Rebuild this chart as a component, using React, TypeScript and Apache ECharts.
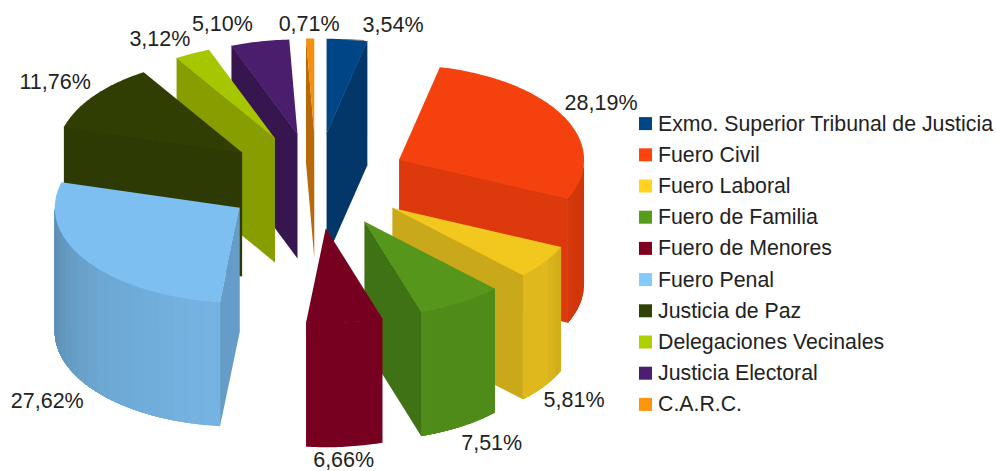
import React, { useEffect, useRef } from "react";
import * as echarts from "echarts";

const categories = [
  "Exmo. Superior Tribunal de Justicia",
  "Fuero Civil",
  "Fuero Laboral",
  "Fuero de Familia",
  "Fuero de Menores",
  "Fuero Penal",
  "Justicia de Paz",
  "Delegaciones Vecinales",
  "Justicia Electoral",
  "C.A.R.C.",
];
const shares = [3.54, 28.19, 5.81, 7.51, 6.66, 27.62, 11.76, 3.12, 5.1, 0.71];
const valueLabels = ["3,54%", "28,19%", "5,81%", "7,51%", "6,66%", "27,62%", "11,76%", "3,12%", "5,10%", "0,71%"];

const topColors = ["#004586", "#F5410D", "#F2C81F", "#55961B", "#770020", "#7DBFF1", "#303E04", "#A6C600", "#4A1E6D", "#F78F0D"];
const cutColors = ["#03376A", "#DC3A0C", "#C9A81A", "#3F7115", "#770020", "#659DC8", "#2D3A04", "#889E00", "#371650", "#B86A0A"];
const legendColors = ["#004586", "#FF420E", "#FFD320", "#579D1C", "#7E0021", "#83CAFF", "#314004", "#AECF00", "#4B1F6F", "#FF950E"];

// layout of the projected pie
const CX = 316.3, CY = 181, RX = 185, RY = 95, DEPTH = 124, EX = 92.5, EY = 47.5;
const SEAM = 0.6;
const FONT = '"Liberation Sans", Arial, sans-serif';
const LABEL_SIZE = 21.5;
const labelNudge: [number, number][] = [
  [46, -3], [0, -3], [-1, 3], [0.5, 5], [-1, 2.5], [-3, 4.5], [-3, -3], [-2, -4], [-7, -6], [-1, -4],
];
const shadeStops: [number, number][] = [[90, 0.84], [115, 0.86], [125, 0.92], [190, 0.94], [230, 0.87], [270, 0.73]];
const flatWall = [4];

const rad = (d: number) => (d * Math.PI) / 180;
const total = shares.reduce((a, b) => a + b, 0);

function shade(hex: string, f: number) {
  const n = parseInt(hex.slice(1), 16);
  const c = [(n >> 16) & 255, (n >> 8) & 255, n & 255].map((v) => Math.round(v * f));
  return `rgb(${c[0]},${c[1]},${c[2]})`;
}
function shadeAt(t: number) {
  for (let i = 1; i < shadeStops.length; i++) {
    const [a, fa] = shadeStops[i - 1];
    const [b, fb] = shadeStops[i];
    if (t <= b) return fa + ((fb - fa) * (t - a)) / (b - a);
  }
  return shadeStops[shadeStops.length - 1][1];
}

function makeRenderer(index: number) {
  return (_params: any, api: any) => {
    const value = api.value(0) as number;
    const before = shares.slice(0, index).reduce((a, b) => a + b, 0);
    const a0 = (before / total) * 360;
    const a1 = a0 + (value / total) * 360;
    const mid = (a0 + a1) / 2;
    const ax = CX + EX * Math.sin(rad(mid));
    const ay = CY - EY * Math.cos(rad(mid));
    const rim = (t: number): [number, number] => [ax + RX * Math.sin(rad(t)), ay - RY * Math.cos(rad(t))];
    const down = (p: [number, number]): [number, number] => [p[0], p[1] + DEPTH];
    const poly = (points: number[][], fill: string) => ({
      type: "polygon",
      shape: { points },
      style: { fill },
    });
    const children: any[] = [];
    const cut = (t: number) => {
      const p = rim(t);
      children.push(
        poly([[ax, ay - SEAM], [p[0], p[1] - SEAM], down(p), [ax, ay + DEPTH]], cutColors[index])
      );
    };
    if (Math.sin(rad(a0)) < 0) cut(a0);
    if (Math.sin(rad(a1)) > 0) cut(a1);
    const w0 = Math.max(a0, 90);
    const w1 = Math.min(a1, 270);
    if (w1 > w0) {
      const flat = flatWall.includes(index);
      const n = flat ? 1 : Math.max(1, Math.ceil((w1 - w0) / 5));
      for (let i = 0; i < n; i++) {
        const s = w0 + ((w1 - w0) * i) / n;
        const e = w0 + ((w1 - w0) * (i + 1)) / n;
        const rimPts: [number, number][] = [];
        const steps = Math.max(2, Math.ceil(w1 - s));
        for (let k = 0; k <= steps; k++) rimPts.push(rim(s + ((w1 - s) * k) / steps));
        const upper = rimPts.map((p) => [p[0], p[1] - SEAM]);
        const lower = rimPts.map((p) => down(p)).reverse();
        const fill = flat ? topColors[index] : shade(topColors[index], shadeAt((s + e) / 2));
        children.push(poly([...upper, ...lower], fill));
      }
    }
    const top: number[][] = [[ax, ay]];
    const steps = Math.max(2, Math.ceil(a1 - a0));
    for (let i = 0; i <= steps; i++) top.push(rim(a0 + ((a1 - a0) * i) / steps));
    children.push(poly(top, topColors[index]));

    const s = Math.sin(rad(mid));
    const c = Math.cos(rad(mid));
    const anchor = rim(mid);
    const base = c < 0 ? down(anchor) : anchor;
    const align = Math.abs(s) < 0.15 ? "center" : s > 0 ? "left" : "right";
    children.push({
      type: "text",
      z2: 100,
      style: {
        text: valueLabels[index],
        x: base[0] + labelNudge[index][0],
        y: base[1] + labelNudge[index][1] + (c > 0 ? -11 : 11),
        fill: "#222222",
        font: `${LABEL_SIZE}px ${FONT}`,
        align,
        verticalAlign: "middle",
      },
    });
    return { type: "group", children };
  };
}

export default function App() {
  const ref = useRef<HTMLDivElement>(null);
  useEffect(() => {
    document.body.style.margin = "0";
    const chart = echarts.init(ref.current!, undefined, { renderer: "svg" });
    const depthRank = shares
      .map((v, i) => {
        const before = shares.slice(0, i).reduce((a, b) => a + b, 0);
        const mid = ((before + v / 2) / total) * 360;
        return { i, c: Math.cos(rad(mid)) };
      })
      .sort((a, b) => b.c - a.c)
      .map((d) => d.i);
    chart.setOption({
      animation: false,
      backgroundColor: "#ffffff",
      legend: {
        orient: "vertical",
        left: 639,
        top: 112,
        padding: 0,
        itemWidth: 13,
        itemHeight: 13,
        itemGap: 8,
        icon: "rect",
        selectedMode: false,
        data: categories.map((name, i) => ({ name, itemStyle: { color: legendColors[i] } })),
        textStyle: { fontFamily: FONT, fontSize: 21.3, color: "#222222", padding: [0, 0, 0, 1], lineHeight: 23.2 },
      },
      graphic: [
        { type: "line", z: 50, shape: { x1: 346, y1: 39.5, x2: 364, y2: 40.5 }, style: { stroke: "#7a7a7a", lineWidth: 1 } },
      ],
      series: categories.map((name, i) => ({
        type: "custom",
        name,
        coordinateSystem: "none",
        clip: false,
        silent: true,
        z: 2 + depthRank.indexOf(i),
        itemStyle: { color: legendColors[i] },
        renderItem: makeRenderer(i),
        data: [[shares[i]]],
      })),
    });
    return () => chart.dispose();
  }, []);
  return <div ref={ref} style={{ width: 996, height: 471 }} />;
}
